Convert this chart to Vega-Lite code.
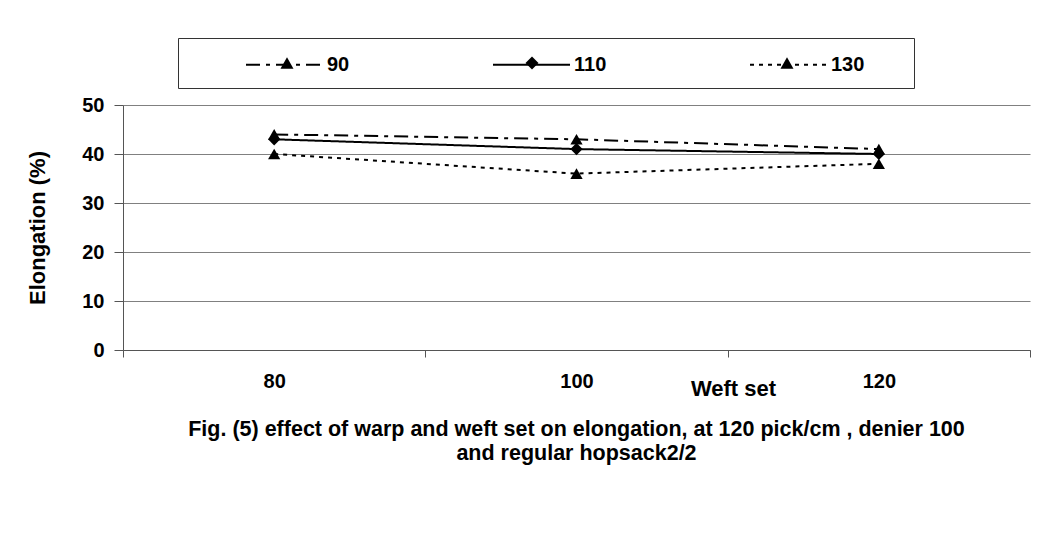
{
  "$schema": "https://vega.github.io/schema/vega-lite/v6.json",
  "width": 907,
  "height": 245,
  "autosize": {"type": "none"},
  "padding": {"left": 123, "top": 105, "right": 8, "bottom": 183},
  "background": "white",
  "title": {
    "text": ["Fig. (5) effect of warp and weft set on elongation, at 120 pick/cm , denier 100", "and regular hopsack2/2"],
    "orient": "bottom",
    "anchor": "middle",
    "font": "Liberation Sans",
    "fontSize": 21.5,
    "fontWeight": "bold",
    "color": "black",
    "lineHeight": 24,
    "offset": 20
  },
  "data": {
    "values": [
      {"weft": "80", "series": 90, "elong": 44},
      {"weft": "100", "series": 90, "elong": 43},
      {"weft": "120", "series": 90, "elong": 41},
      {"weft": "80", "series": 110, "elong": 43},
      {"weft": "100", "series": 110, "elong": 41},
      {"weft": "120", "series": 110, "elong": 40},
      {"weft": "80", "series": 130, "elong": 40},
      {"weft": "100", "series": 130, "elong": 36},
      {"weft": "120", "series": 130, "elong": 38}
    ]
  },
  "encoding": {
    "x": {
      "field": "weft",
      "type": "ordinal",
      "sort": ["80", "100", "120"],
      "scale": {"type": "band", "paddingInner": 0, "paddingOuter": 0},
      "axis": {
        "title": "Weft set",
        "titleX": 610,
        "titleY": 38,
        "titleBaseline": "middle",
        "titleAlign": "center",
        "titleFontSize": 22,
        "labelAngle": 0,
        "tickBand": "extent",
        "tickSize": 7,
        "labelPadding": 14,
        "domainColor": "#555555",
        "tickColor": "#555555",
        "grid": false
      }
    },
    "y": {
      "field": "elong",
      "type": "quantitative",
      "scale": {"domain": [0, 50]},
      "axis": {
        "title": "Elongation (%)",
        "titleFontSize": 22,
        "values": [0, 10, 20, 30, 40, 50],
        "tickSize": 9,
        "labelPadding": 10,
        "titlePadding": 32,
        "domainColor": "#555555",
        "tickColor": "#555555",
        "grid": true,
        "gridColor": "#808080"
      }
    }
  },
  "layer": [
    {
      "mark": {"type": "line", "color": "black", "strokeWidth": 2},
      "encoding": {
        "strokeDash": {
          "field": "series",
          "type": "nominal",
          "scale": {"domain": [90, 110, 130], "range": [[14, 6, 4, 6], [1, 0], [4, 5]]},
          "legend": {
            "title": "\u00a0",
            "titleOrient": "left",
            "titleFontSize": 2,
            "titlePadding": 52,
            "orient": "none",
            "legendX": 55,
            "legendY": -95,
            "direction": "horizontal",
            "columns": 3,
            "columnPadding": 139,
            "padding": 15,
            "strokeColor": null,
            "fillColor": null,
            "symbolType": "stroke",
            "symbolSize": 5929,
            "symbolStrokeWidth": 2,
            "symbolStrokeColor": "black",
            "labelFont": "Liberation Sans",
            "labelFontSize": 20,
            "labelFontWeight": "bold",
            "labelColor": "black",
            "labelOffset": 3,
            "labelExpr": "datum.label + '\u00a0\u00a0\u00a0\u00a0\u00a0\u00a0'"
          }
        }
      }
    },
    {
      "mark": {"type": "point", "filled": true, "color": "black", "opacity": 1},
      "encoding": {
        "shape": {
          "field": "series",
          "type": "nominal",
          "scale": {"range": ["triangle-up", "diamond", "triangle-up"]},
          "legend": {
            "title": "\u00a0",
            "titleOrient": "left",
            "titleFontSize": 2,
            "titlePadding": 84,
            "orient": "none",
            "legendX": 55,
            "legendY": -67,
            "direction": "horizontal",
            "columns": 3,
            "columnPadding": 134,
            "padding": 15,
            "strokeColor": "#333333",
            "fillColor": null,
            "symbolSize": 170,
            "symbolFillColor": "black",
            "symbolStrokeColor": "black",
            "symbolStrokeWidth": 0,
            "symbolOpacity": 1,
            "labelFont": "Liberation Sans",
            "labelFontSize": 20,
            "labelFontWeight": "bold",
            "labelOpacity": 0,
            "labelOffset": 68,
            "labelExpr": "datum.label + '\u00a0'"
          }
        },
        "size": {"value": 150}
      }
    }
  ],
  "config": {
    "view": {"stroke": null},
    "axis": {
      "labelFont": "Liberation Sans",
      "labelFontSize": 20,
      "labelFontWeight": "bold",
      "labelColor": "black",
      "titleFont": "Liberation Sans",
      "titleFontSize": 20,
      "titleFontWeight": "bold",
      "titleColor": "black"
    }
  }
}
